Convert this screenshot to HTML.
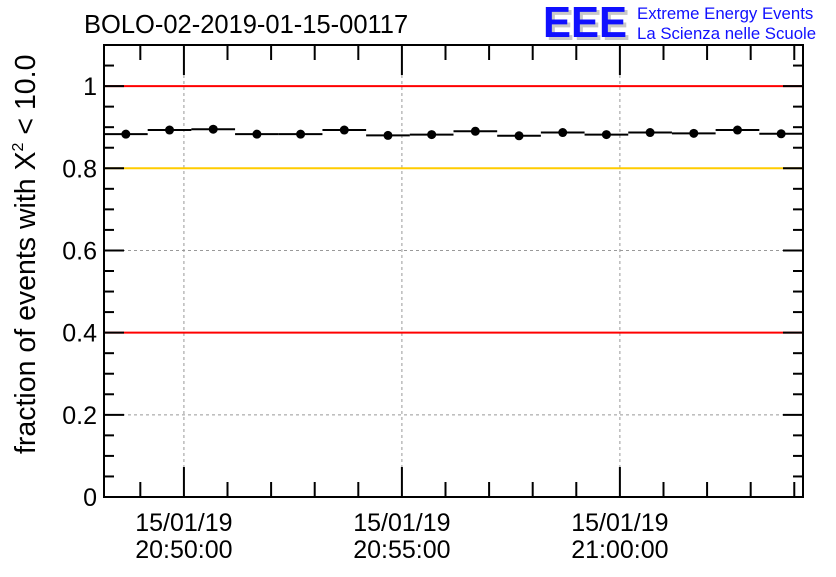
<!DOCTYPE html>
<html><head><meta charset="utf-8"><style>
body{margin:0;background:#fff}
svg text{font-family:"Liberation Sans",sans-serif}
</style></head><body>
<svg id="chart" width="836" height="572" xmlns="http://www.w3.org/2000/svg">
<rect width="836" height="572" fill="#fff"/>
<text x="84" y="33" font-size="25.5">BOLO-02-2019-01-15-00117</text>
<g>
<text x="546" y="40" font-size="44" fill="#c8c8c8" font-weight="bold" textLength="84" lengthAdjust="spacingAndGlyphs">EEE</text>
<text x="543" y="37" font-size="44" fill="#1010ff" font-weight="bold" textLength="84" lengthAdjust="spacingAndGlyphs">EEE</text>
<text x="637" y="19" font-size="16.8" fill="#1010ff">Extreme Energy Events</text>
<text x="637" y="39" font-size="16.8" fill="#1010ff">La Scienza nelle Scuole</text>
</g>
<g id="grid"></g><g id="refs"></g><g id="marks"></g><g id="axes"></g>
<text transform="translate(35,454) rotate(-90)" font-size="28.5">fraction of events with Χ<tspan font-size="16" dy="-12">2</tspan><tspan dy="12"> &lt; 10.0</tspan></text>
</svg>
<script>
const values=[0.883,0.893,0.895,0.883,0.883,0.893,0.880,0.882,0.890,0.879,0.887,0.882,0.887,0.885,0.893,0.884];
const yTicks=[0,0.2,0.4,0.6,0.8,1];
const yTickLabels=["0","0.2","0.4","0.6","0.8","1"];
const xTickMinutes=[5,10,15];
const xTickLabels=[["15/01/19","20:50:00"],["15/01/19","20:55:00"],["15/01/19","21:00:00"]];
const refLines=[1,0.8,0.4];
const refColors=["#ff0000","#ffcc00","#ff0000"];
const L=104,R=803,T=45,B=497,YMAX=1.1,XMIN=3.167,XMAX=19.2;
const ys=v=>B-(v/YMAX)*(B-T);
const xs=m=>L+(m-XMIN)/(XMAX-XMIN)*(R-L);
const NS="http://www.w3.org/2000/svg";
function mk(p,t,a){const e=document.createElementNS(NS,t);for(const k in a)e.setAttribute(k,a[k]);document.getElementById(p).appendChild(e);return e;}
yTicks.forEach((v,i)=>{
 if(v>0&&v<1){const g=mk("grid","line",{x1:L,x2:R,y1:ys(v),y2:ys(v),stroke:"#999","stroke-dasharray":"3,3"});
 
 }
 const t=mk("axes","text",{x:L-7,y:ys(v)+9,"font-size":25,"text-anchor":"end"});t.textContent=yTickLabels[i];
 
 
});
xTickMinutes.forEach((m,i)=>{
 const g=mk("grid","line",{x1:xs(m),x2:xs(m),y1:T,y2:B,stroke:"#999","stroke-dasharray":"3,3"});
 
 
 xTickLabels[i].forEach((s,j)=>{const t=mk("axes","text",{x:xs(m),y:531+j*27,"font-size":25,"text-anchor":"middle"});t.textContent=s;
 
 });
});
refLines.forEach((v,i)=>{const l=mk("refs","line",{x1:L,x2:R,y1:ys(v),y2:ys(v),stroke:refColors[i],"stroke-width":2});
 
 });
const bw=(XMAX-XMIN)/values.length;
values.forEach((v,i)=>{
 const x0=xs(XMIN+i*bw),x1=xs(XMIN+(i+1)*bw),y=ys(v);
 const l=mk("marks","line",{x1:x0,x2:x1,y1:y,y2:y,stroke:"#000","stroke-width":2});
 
 
 const c=mk("marks","circle",{cx:(x0+x1)/2,cy:y,r:4.5,fill:"#000"});
 
 
});
const f=mk("axes","rect",{x:L,y:T,width:R-L,height:B-T,fill:"none",stroke:"#000","stroke-width":2});


for(let v=0;v<=1.1001;v+=0.05){const major=Math.abs(v*5-Math.round(v*5))<1e-6;const len=major?20:10;
 [[L,L+len],[R,R-len]].forEach(p=>{const t=mk("axes","line",{x1:p[0],x2:p[1],y1:ys(v),y2:ys(v),stroke:"#000","stroke-width":2});
 
 });}
for(let m=4;m<=19;m++){const major=m%5===0;const len=major?30:15;
 [[B,B-len],[T,T+len]].forEach(p=>{const t=mk("axes","line",{x1:xs(m),x2:xs(m),y1:p[0],y2:p[1],stroke:"#000","stroke-width":2});
 
 });}
</script>
</body></html>
